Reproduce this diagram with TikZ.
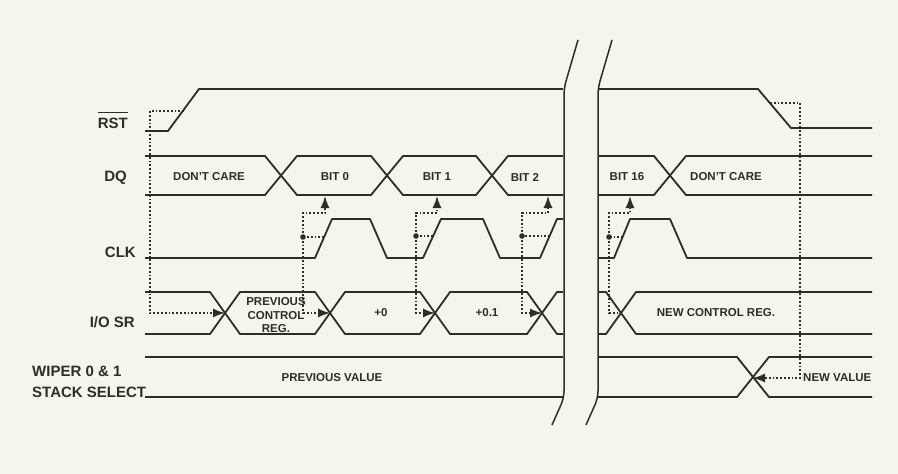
\documentclass[tikz,border=0pt]{standalone}
\usepackage{fontspec}
\setmainfont{Liberation Sans}
\usetikzlibrary{arrows.meta}
\definecolor{bg}{HTML}{F5F5EC}
\definecolor{ink}{HTML}{2E2E27}
\begin{document}
\begin{tikzpicture}[x=1pt,y=-1pt,
  sig/.style={draw=ink, line width=1.8pt, line join=round},
  dotl/.style={draw=ink, line width=1.5pt, dash pattern=on 1.8pt off 2pt},
  tipA/.style={-{Latex[length=12pt,width=9pt]}},
  lab/.style={font=\bfseries\fontsize{15}{17}\selectfont, text=ink, inner sep=0pt},
  inn/.style={font=\bfseries\fontsize{11.5}{13}\selectfont, text=ink, inner sep=0pt},
  brk/.style={draw=ink, line width=1.5pt, rounded corners=7pt}]
\fill[bg] (0,0) rectangle (898,474);
\useasboundingbox (0,0) rectangle (898,474);

% ---------- signal labels ----------
\node[lab, anchor=east] (rst) at (128,123) {RST};
\draw[ink, line width=1pt] ([yshift=4.5pt]rst.north west) -- ([yshift=4.5pt]rst.north east);
\node[lab, anchor=east] (dq) at (127,178) {DQ};
\node[lab, anchor=east] (clk) at (136,252) {CLK};
\node[lab, anchor=east] (iosr) at (135,322) {I/O SR};
\node[lab, anchor=west] (wip1) at (32,371.5) {WIPER 0 \& 1};
\node[lab, anchor=west] (wip2) at (32,392) {STACK SELECT};

% ---------- RST ----------
\draw[sig] (145,131) -- (168,131) -- (199,89) -- (563,89);
\draw[sig] (598,89) -- (758,89) -- (791,128) -- (872,128);

% ---------- DQ ----------
\draw[sig] (145,156) -- (265,156) -- (297,195) -- (371,195) -- (403,156) -- (476,156) -- (508,195) -- (563,195);
\draw[sig] (145,195) -- (265,195) -- (297,156) -- (371,156) -- (403,195) -- (476,195) -- (508,156) -- (563,156);
\draw[sig] (598,156) -- (654,156) -- (686,195) -- (872,195);
\draw[sig] (598,195) -- (654,195) -- (686,156) -- (872,156);

% ---------- CLK ----------
\draw[sig] (145,258) -- (315,258) -- (332,219) -- (370,219) -- (387,258) -- (423,258) -- (441,219) -- (483,219) -- (500,258) -- (540,258) -- (557,219) -- (563,219);
\draw[sig] (598,258) -- (614,258) -- (630,219) -- (670,219) -- (687,258) -- (872,258);

% ---------- I/O SR ----------
\draw[sig] (145,292) -- (210,292) -- (240,334) -- (315,334) -- (345,292) -- (420,292) -- (450,334) -- (527,334) -- (557,292) -- (563,292);
\draw[sig] (145,334) -- (210,334) -- (240,292) -- (315,292) -- (345,334) -- (420,334) -- (450,292) -- (527,292) -- (557,334) -- (563,334);
\draw[sig] (598,292) -- (606,292) -- (636,334) -- (872,334);
\draw[sig] (598,334) -- (606,334) -- (636,292) -- (872,292);

% ---------- WIPER ----------
\draw[sig] (145,357) -- (563,357);
\draw[sig] (145,397) -- (563,397);
\draw[sig] (598,357) -- (737,357) -- (769,397) -- (872,397);
\draw[sig] (598,397) -- (737,397) -- (769,357) -- (872,357);

% ---------- break ----------
\draw[brk] (578,40) -- (564,88) -- (564,398) -- (552,425);
\draw[brk] (612,40) -- (598,88) -- (598,398) -- (586,425);

% ---------- bus texts ----------
\node[inn] (dc1) at (209,177) {DON'T CARE};
\node[inn] (b0) at (335,177) {BIT 0};
\node[inn] (b1) at (437,177) {BIT 1};
\node[inn] (b2) at (525,177) {BIT 2};
\node[inn] (b16) at (627,177) {BIT 16};
\node[inn] (dc2) at (726,177) {DON'T CARE};
\node[inn] (pc1) at (276,302) {PREVIOUS};
\node[inn] (pc2) at (276,315.5) {CONTROL};
\node[inn] (pc3) at (276,328.5) {REG.};
\node[inn] (p0) at (381,313) {+0};
\node[inn] (p01) at (487,313) {+0.1};
\node[inn] (ncr) at (716,313) {NEW CONTROL REG.};
\node[inn] (pv) at (332,378) {PREVIOUS VALUE};
\node[inn, anchor=west] (nv) at (803,378) {NEW VALUE};

% ---------- reset timing ----------
\coordinate (rA) at (184,111);
\coordinate (rB) at (150,111);
\coordinate (rC) at (150,313);
\coordinate (x0) at (225,313);
\draw[dotl, tipA] (rA) -- (rB) -- (rC) -- (x0);
\coordinate (sA) at (770,103);
\coordinate (sB) at (800,103);
\coordinate (sC) at (800,378);
\coordinate (w0) at (753,378);
\draw[dotl, tipA] (sA) -- (sB) -- (sC) -- (w0);

% ---------- clock triggers ----------
\foreach \v/\d/\u/\e/\c in {303/237/325/324/330, 416/236/437/433/435, 522/236/548/550/542}{
  \draw[dotl] (\e,\d) -- (\v,\d);
  \draw[dotl, tipA] (\v,\d) -- (\v,213) -- (\u,213) -- (\u,196);
  \draw[dotl, tipA] (\v,\d) -- (\v,313) -- (\c,313);
  \fill[ink] (\v,\d) circle[radius=2.8pt];
}
\draw[dotl] (623,237) -- (609,237);
\draw[dotl, tipA] (609,237) -- (609,213) -- (630,213) -- (630,196);
\draw[dotl] (609,237) -- (609,313) -- (618,313);
\fill[ink] (609,237) circle[radius=2.8pt];
\end{tikzpicture}
\end{document}
